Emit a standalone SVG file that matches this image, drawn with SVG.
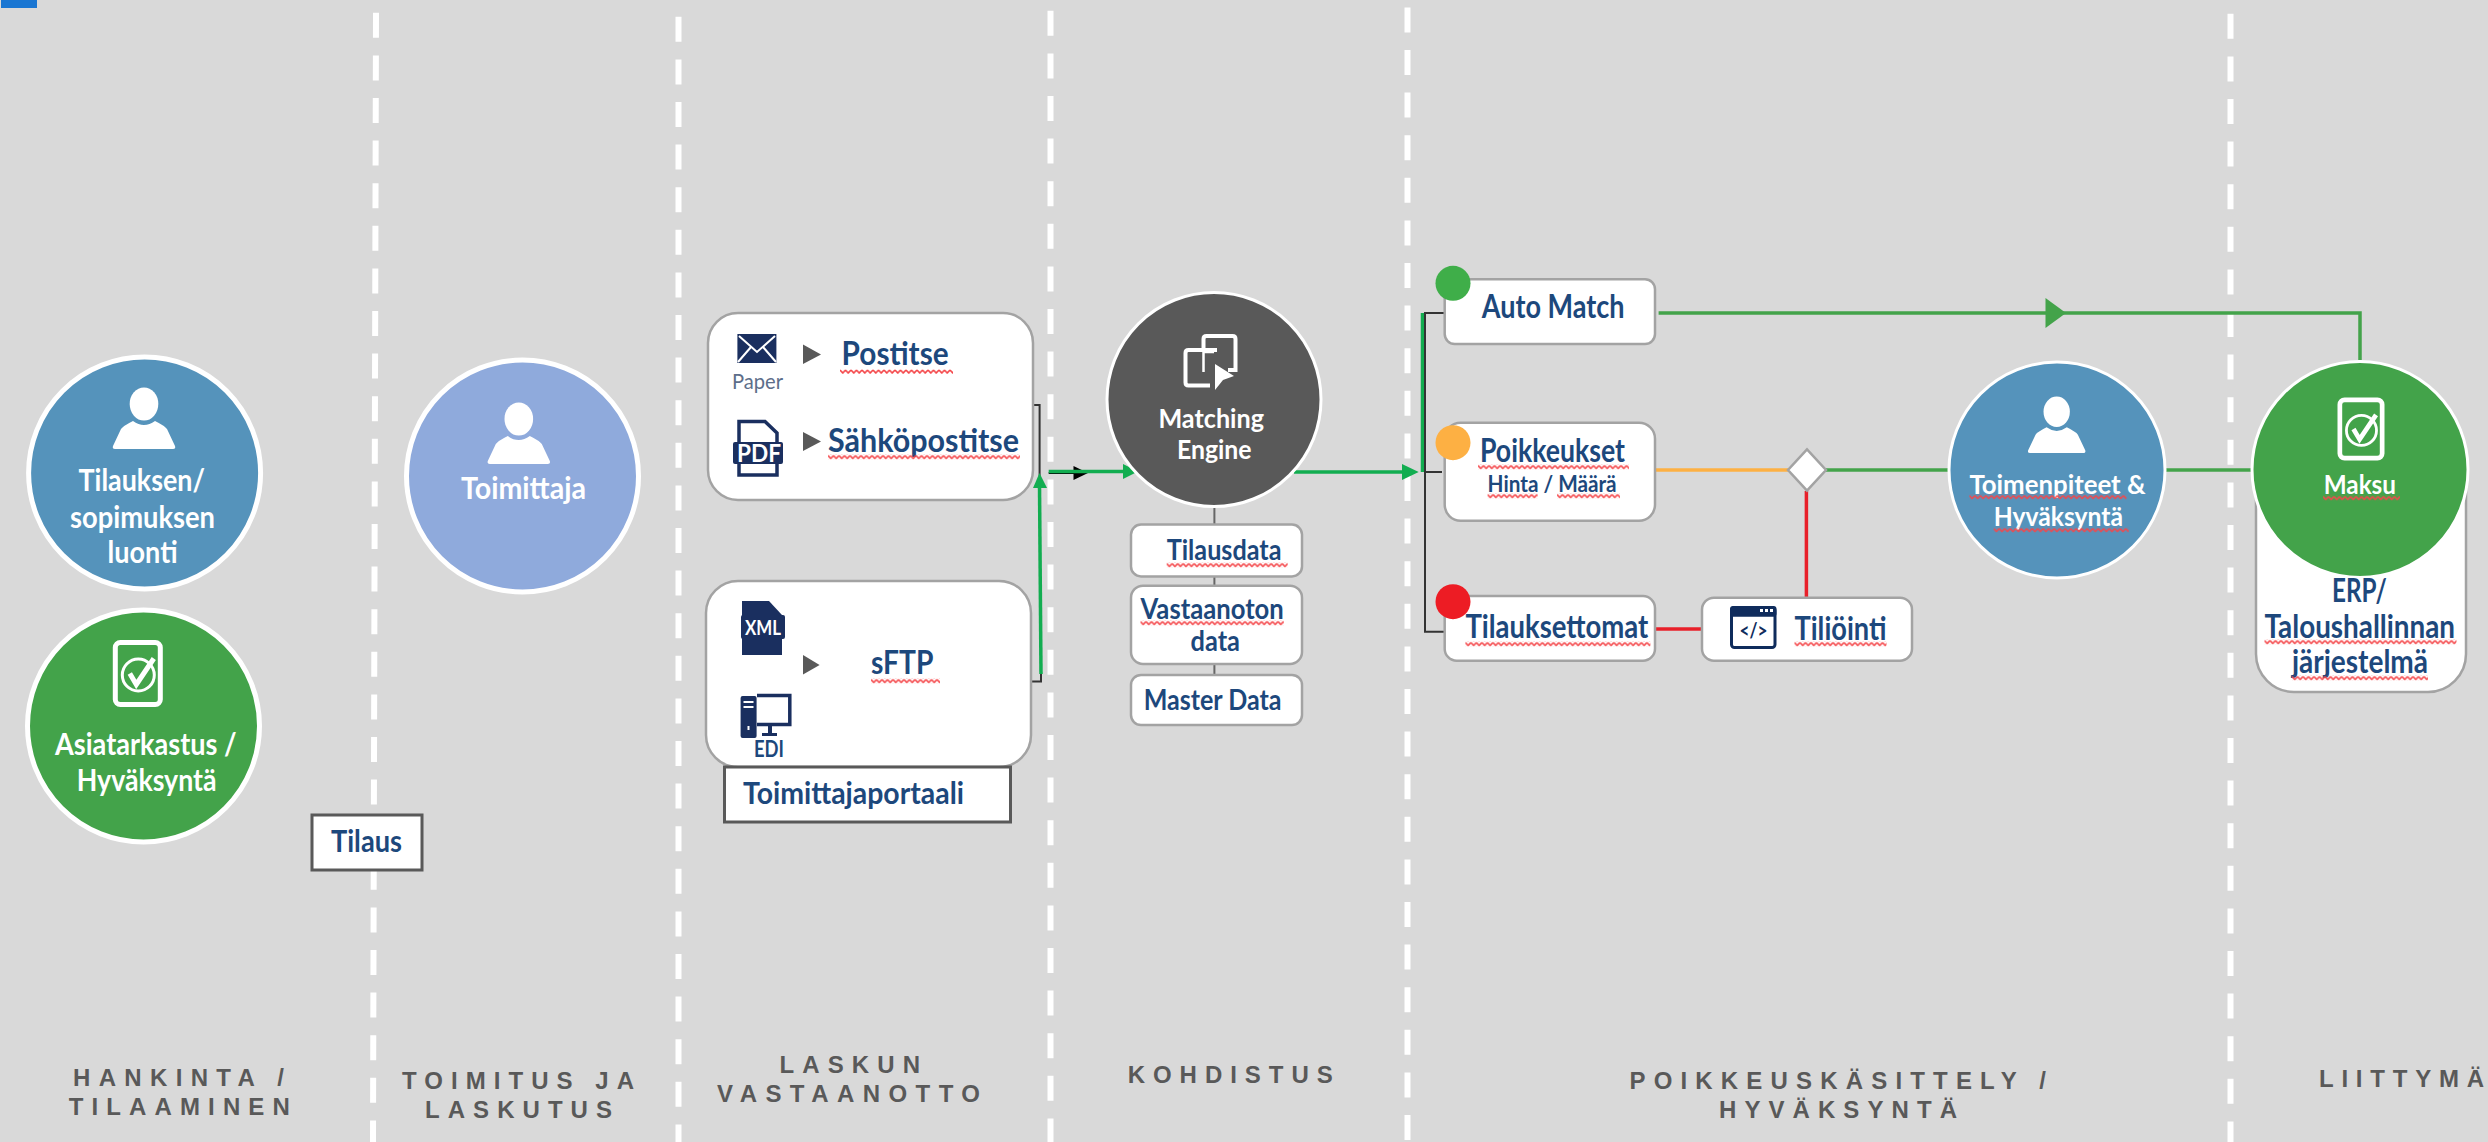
<svg xmlns="http://www.w3.org/2000/svg" width="2488" height="1142" viewBox="0 0 2488 1142">
<defs>
<style>
text{font-family:"Lato","Carlito","Liberation Sans",sans-serif;font-weight:700}
.w{fill:#fff}
.n{fill:#1d487c}
.wl{font-size:30px}
.nl{font-size:33px}
.nm{font-size:28px}
.sec{font-family:"Liberation Sans",Arial,sans-serif;font-size:24px;fill:#595959}
.dash{stroke:#fff;stroke-width:6;stroke-dasharray:25 17.6;fill:none}
.cw{stroke:#fff;stroke-width:5}
.cwt{stroke:#fff;stroke-width:3}
.blue{fill:#5593bb}
.green{fill:#43a34a}
.box{fill:#fff;stroke:#a3a3a3;stroke-width:2.5}
.sq{fill:#fff;stroke:#595959;stroke-width:3}
.gl{fill:none;stroke:#43a34a;stroke-width:3.5}
.gb{fill:none;stroke:#12ad50;stroke-width:3.5}
.rd{fill:none;stroke:#e8202a;stroke-width:3.5}
.bk{fill:none;stroke:#333;stroke-width:2}
.gy{fill:none;stroke:#666;stroke-width:2}
.tri{fill:#595959}
.ic{fill:#1a2f5f}
.icl{fill:none;stroke:#1a2f5f;stroke-width:3.5}
</style>
<pattern id="sqg" patternUnits="userSpaceOnUse" width="5.5" height="5">
<path d="M0,1 L2.75,4 L5.5,1" fill="none" stroke="#f4474a" stroke-width="1.6"/>
</pattern>
<g id="person" fill="#fff">
<ellipse cx="0" cy="0" rx="14.3" ry="16.5"/>
<path d="M-31,42 L-23,25 Q-21,22 -11,17 Q0,25 11,17 Q21,22 23,25 L31,42 Q32,45 29,45 L-29,45 Q-32,45 -31,42Z"/>
</g>
<g id="check">
<rect x="-22.5" y="-31" width="45" height="62" rx="5" fill="none" stroke="#fff" stroke-width="5"/>
<circle cx="0.5" cy="1.5" r="16" fill="none" stroke="#fff" stroke-width="3"/>
<path d="M-8,0 L-1.5,11 L16,-15" fill="none" stroke="#fff" stroke-width="5"/>
</g>
</defs>

<rect id="background" width="2488" height="1142" fill="#d9d9d9"/>
<rect id="corner" x="1" width="36" height="8" fill="#1a76d2"/>

<g id="lanes">
<line class="dash" x1="376" y1="12.8" x2="373" y2="1142"/>
<line class="dash" x1="678.5" y1="16.8" x2="678.5" y2="1142"/>
<line class="dash" x1="1050.5" y1="10.8" x2="1050.5" y2="1142"/>
<line class="dash" x1="1407.5" y1="7.4" x2="1407.5" y2="1142"/>
<line class="dash" x1="2230.5" y1="13.8" x2="2230.5" y2="1142"/>
</g>

<g id="connectors">
<path class="bk" d="M1033,405 H1039.6 V476"/>
<path class="bk" d="M1031,681.4 H1041 V660"/>
<path class="gb" d="M1041,674 L1039.5,485"/>
<polygon points="1039.5,473 1047,488 1033,488" fill="#12ad50"/>
<path d="M1048.7,473 H1076" fill="none" stroke="#000" stroke-width="2"/>
<polygon points="1088,473 1073.5,466 1073.5,480" fill="#000"/>
<path class="gb" d="M1048.7,471.5 H1125"/>
<polygon points="1138,471.5 1123,464 1123,479" fill="#12ad50"/>
<path class="gb" d="M1294,472 H1404"/>
<polygon points="1418.7,472 1402,464 1402,480" fill="#12ad50"/>
<path class="gy" d="M1214.4,505 V676"/>
<path class="gb" d="M1422.5,313 V472" stroke-width="3"/>
<path class="bk" d="M1445,313 H1425 V631.7 H1445"/>
<path class="bk" d="M1425,472 H1442"/>
<path class="gl" d="M1658.6,313 H2360 V360" stroke-width="3"/>
<polygon points="2066,313 2045.5,298 2045.5,328" fill="#43a34a"/>
<path d="M1655,470 H1790" fill="none" stroke="#fdb043" stroke-width="3.5"/>
<path class="gl" d="M1826,470 H1948"/>
<path class="gl" d="M2165,470 H2252"/>
<path class="rd" d="M1806.4,491 V598"/>
<path class="rd" d="M1656,629 H1702" stroke-width="4"/>
</g>

<g id="node-tilauksen">
<circle class="blue cw" cx="144.6" cy="473" r="116"/>
<use href="#person" x="144" y="404"/>
<text class="w wl" x="78.6" y="491" textLength="126.4" lengthAdjust="spacingAndGlyphs">Tilauksen/</text>
<text class="w wl" x="70" y="527.5" textLength="145" lengthAdjust="spacingAndGlyphs">sopimuksen</text>
<text class="w wl" x="107.6" y="562.5" textLength="70" lengthAdjust="spacingAndGlyphs">luonti</text>
</g>
<g id="node-asiatarkastus">
<circle class="green cw" cx="143.5" cy="726" r="116"/>
<use href="#check" x="137.8" y="673.5"/>
<text class="w wl" x="55" y="755" textLength="181.6" lengthAdjust="spacingAndGlyphs">Asiatarkastus /</text>
<text class="w wl" x="76.8" y="790.5" textLength="139.7" lengthAdjust="spacingAndGlyphs">Hyväksyntä</text>
</g>
<g id="node-tilaus">
<rect class="sq" x="312" y="815" width="110" height="55"/>
<text class="n" font-size="30" x="331" y="852" textLength="71" lengthAdjust="spacingAndGlyphs">Tilaus</text>
</g>
<g id="node-toimittaja">
<circle class="cw" fill="#8faadc" cx="522.5" cy="476" r="116"/>
<use href="#person" x="518.8" y="419"/>
<text class="w wl" x="461" y="499" textLength="125" lengthAdjust="spacingAndGlyphs">Toimittaja</text>
</g>

<g id="node-postitse">
<rect class="box" x="708" y="313" width="325" height="187" rx="30"/>
<rect class="ic" x="737.4" y="334" width="39" height="29"/>
<path d="M739,336 L757,352 L775,336 M738,362 L751,347 M776,362 L763,347" fill="none" stroke="#fff" stroke-width="2"/>
<text font-size="22" x="732" y="388.5" fill="#5d6e8a" style="font-weight:400" textLength="51" lengthAdjust="spacingAndGlyphs">Paper</text>
<polygon class="tri" points="803,344.6 821,354.5 803,364"/>
<text class="n nl" x="841.6" y="364.5" textLength="107" lengthAdjust="spacingAndGlyphs">Postitse</text>
<rect fill="url(#sqg)" width="113" height="5" transform="translate(840,369)"/>
<path class="icl" d="M739,442 V421.5 H765 L777,433 V442"/>
<path class="icl" d="M739,463 V475 H777 V463"/>
<rect class="ic" x="733" y="442" width="50" height="22" rx="2"/>
<text class="w" font-size="24" x="737" y="461.5" textLength="44" lengthAdjust="spacingAndGlyphs">PDF</text>
<polygon class="tri" points="803,432 821,441.5 803,451"/>
<text class="n nl" x="828" y="451.5" textLength="191" lengthAdjust="spacingAndGlyphs">Sähköpostitse</text>
<rect fill="url(#sqg)" width="192" height="5" transform="translate(828,454.5)"/>
</g>
<g id="node-sftp">
<rect class="box" x="706" y="581" width="325" height="186" rx="32"/>
<path class="ic" d="M742,601 H769 L782,615 V655 H742Z"/>
<rect class="ic" x="741" y="615" width="44" height="24" rx="2"/>
<text class="w" font-size="21" x="745" y="634.5" textLength="36" lengthAdjust="spacingAndGlyphs">XML</text>
<polygon class="tri" points="803,655 819.6,665 803,674.6"/>
<text class="n nl" x="871" y="673.5" textLength="62.4" lengthAdjust="spacingAndGlyphs">sFTP</text>
<rect fill="url(#sqg)" width="69" height="5" transform="translate(871,678.5)"/>
<rect class="ic" x="740.6" y="696" width="16" height="42" rx="2"/>
<rect x="743.5" y="701" width="10" height="2" fill="#fff"/>
<rect x="743.5" y="706" width="10" height="2" fill="#fff"/>
<rect x="747.5" y="726" width="2" height="4" fill="#fff"/>
<path class="icl" d="M757,695.5 H789.8 V724.5 H757"/>
<rect class="ic" x="768" y="726" width="4" height="7"/>
<rect class="ic" x="762" y="733" width="15" height="3"/>
<text class="n" font-size="23" x="754" y="757" textLength="30" lengthAdjust="spacingAndGlyphs">EDI</text>
</g>
<g id="node-portaali">
<rect class="sq" x="724.5" y="767" width="286" height="55"/>
<text class="n" font-size="31" x="743" y="804" textLength="221" lengthAdjust="spacingAndGlyphs">Toimittajaportaali</text>
</g>

<g id="node-matching">
<circle fill="#595959" class="cwt" cx="1214" cy="399.5" r="107"/>
<path d="M1203.5,350 V339 Q1203.5,336 1206.5,336 H1232.5 Q1235.5,336 1235.5,339 V370 H1228" fill="none" stroke="#fff" stroke-width="4"/>
<path d="M1217,350 H1188.5 Q1185.5,350 1185.5,353 V382.5 Q1185.5,385.5 1188.5,385.5 H1210" fill="none" stroke="#fff" stroke-width="4"/>
<path d="M1203.5,352 V372 M1203.5,352 H1214" fill="none" stroke="#fff" stroke-width="2.5"/>
<polygon points="1215,364 1234,376 1223,380 1215,390" fill="#fff"/>
<text class="w" font-size="27" x="1158.4" y="428" textLength="105.6" lengthAdjust="spacingAndGlyphs">Matching</text>
<text class="w" font-size="27" x="1177" y="459" textLength="74.6" lengthAdjust="spacingAndGlyphs">Engine</text>
</g>
<g id="node-tilausdata">
<rect class="box" x="1131" y="524.6" width="171" height="51.8" rx="10"/>
<text class="n nm" x="1166.7" y="560" textLength="114.8" lengthAdjust="spacingAndGlyphs">Tilausdata</text>
<rect fill="url(#sqg)" width="121" height="5" transform="translate(1166.7,562.5)"/>
</g>
<g id="node-vastaanoton">
<rect class="box" x="1131" y="585.7" width="171" height="78.3" rx="12"/>
<text class="n nm" x="1140.5" y="619" textLength="143.3" lengthAdjust="spacingAndGlyphs">Vastaanoton</text>
<rect fill="url(#sqg)" width="143.3" height="5" transform="translate(1140.5,620.5)"/>
<text class="n nm" x="1190.6" y="650.5" textLength="49.4" lengthAdjust="spacingAndGlyphs">data</text>
</g>
<g id="node-master">
<rect class="box" x="1131" y="675" width="171" height="50" rx="10"/>
<text class="n nm" x="1143.7" y="710" textLength="137.8" lengthAdjust="spacingAndGlyphs">Master Data</text>
</g>

<g id="node-automatch">
<rect class="box" x="1444.7" y="279.3" width="210.3" height="64.7" rx="10"/>
<circle cx="1453" cy="283.3" r="17.5" fill="#3fae49"/>
<text class="n nl" x="1481.8" y="318" textLength="142.8" lengthAdjust="spacingAndGlyphs">Auto Match</text>
</g>
<g id="node-poikkeukset">
<rect class="box" x="1444.7" y="422.7" width="210.3" height="98" rx="16"/>
<circle cx="1453" cy="442.7" r="17.5" fill="#fdb043"/>
<text class="n nl" x="1480" y="462" textLength="145" lengthAdjust="spacingAndGlyphs">Poikkeukset</text>
<rect fill="url(#sqg)" width="151" height="5" transform="translate(1478,464.5)"/>
<text class="n" font-size="23" x="1487.6" y="492" textLength="129" lengthAdjust="spacingAndGlyphs">Hinta / Määrä</text>
<rect fill="url(#sqg)" width="50" height="5" transform="translate(1487.6,493.5)"/>
<rect fill="url(#sqg)" width="63" height="5" transform="translate(1557,493.5)"/>
</g>
<g id="node-tilauksettomat">
<rect class="box" x="1444.7" y="596" width="210.3" height="64.7" rx="12"/>
<circle cx="1453" cy="601.7" r="17.5" fill="#ed1c24"/>
<text class="n nl" x="1465.4" y="638" textLength="182.9" lengthAdjust="spacingAndGlyphs">Tilauksettomat</text>
<rect fill="url(#sqg)" width="185" height="5" transform="translate(1465.4,641.5)"/>
</g>
<g id="node-tiliointi">
<rect class="box" x="1702" y="597.7" width="210" height="63" rx="12"/>
<rect x="1731.5" y="607.5" width="43.5" height="40" rx="3" fill="#fff" stroke="#0f2c5c" stroke-width="3"/>
<rect x="1730" y="606" width="46.5" height="10.7" rx="3" fill="#0f2c5c"/>
<rect x="1760" y="609" width="3" height="3" fill="#fff"/>
<rect x="1765" y="609" width="3" height="3" fill="#fff"/>
<rect x="1770" y="609" width="3" height="3" fill="#fff"/>
<text x="1739.5" y="638" font-size="20" fill="#0f2c5c" textLength="28" lengthAdjust="spacingAndGlyphs">&lt;/&gt;</text>
<text class="n nl" x="1794.5" y="639.5" textLength="92" lengthAdjust="spacingAndGlyphs">Tiliöinti</text>
<rect fill="url(#sqg)" width="92" height="5" transform="translate(1794.5,641.5)"/>
</g>
<g id="node-decision">
<polygon points="1807,449.3 1826,470 1807,490.7 1788,470" fill="#fff" stroke="#a3a3a3" stroke-width="2.5"/>
</g>

<g id="node-toimenpiteet">
<circle class="blue cwt" cx="2057" cy="470" r="108"/>
<g transform="translate(2056.7,411.7) scale(.92)"><use href="#person"/></g>
<text class="w" font-size="27" x="1969.4" y="493.5" textLength="176.2" lengthAdjust="spacingAndGlyphs">Toimenpiteet &amp;</text>
<rect fill="url(#sqg)" width="157" height="5" transform="translate(1969.4,494.5)"/>
<text class="w" font-size="27" x="1993.7" y="525.5" textLength="129.3" lengthAdjust="spacingAndGlyphs">Hyväksyntä</text>
<rect fill="url(#sqg)" width="135" height="5" transform="translate(1993.7,527.5)"/>
</g>
<g id="node-maksu">
<rect class="box" x="2256" y="450" width="210" height="242" rx="38"/>
<circle class="green cwt" cx="2360" cy="469.5" r="108"/>
<g transform="translate(2361,429) scale(.94)"><use href="#check"/></g>
<text class="w" font-size="27" x="2323.7" y="493.5" textLength="72.3" lengthAdjust="spacingAndGlyphs">Maksu</text>
<rect fill="url(#sqg)" width="77" height="5" transform="translate(2323,495.5)"/>
<text class="n nl" x="2332" y="602" textLength="54.7" lengthAdjust="spacingAndGlyphs">ERP/</text>
<text class="n nl" x="2264.5" y="638" textLength="190.5" lengthAdjust="spacingAndGlyphs">Taloushallinnan</text>
<rect fill="url(#sqg)" width="192" height="5" transform="translate(2264.5,639.5)"/>
<text class="n nl" x="2292" y="673" textLength="136" lengthAdjust="spacingAndGlyphs">järjestelmä</text>
<rect fill="url(#sqg)" width="136" height="5" transform="translate(2292,675.5)"/>
</g>

<g id="section-labels">
<text class="sec" x="73" y="1085.5" textLength="211">HANKINTA /</text>
<text class="sec" x="68.8" y="1114.5" textLength="221">TILAAMINEN</text>
<text class="sec" x="402" y="1088.5" textLength="232">TOIMITUS JA</text>
<text class="sec" x="425" y="1117.5" textLength="187">LASKUTUS</text>
<text class="sec" x="779.4" y="1072.5" textLength="140.6">LASKUN</text>
<text class="sec" x="717" y="1102" textLength="263">VASTAANOTTO</text>
<text class="sec" x="1127.7" y="1082.5" textLength="205">KOHDISTUS</text>
<text class="sec" x="1629.5" y="1088.5" textLength="416.5">POIKKEUSKÄSITTELY /</text>
<text class="sec" x="1719" y="1117.5" textLength="238">HYVÄKSYNTÄ</text>
<text class="sec" x="2319" y="1086.5" textLength="165">LIITTYMÄ</text>
</g>
</svg>
